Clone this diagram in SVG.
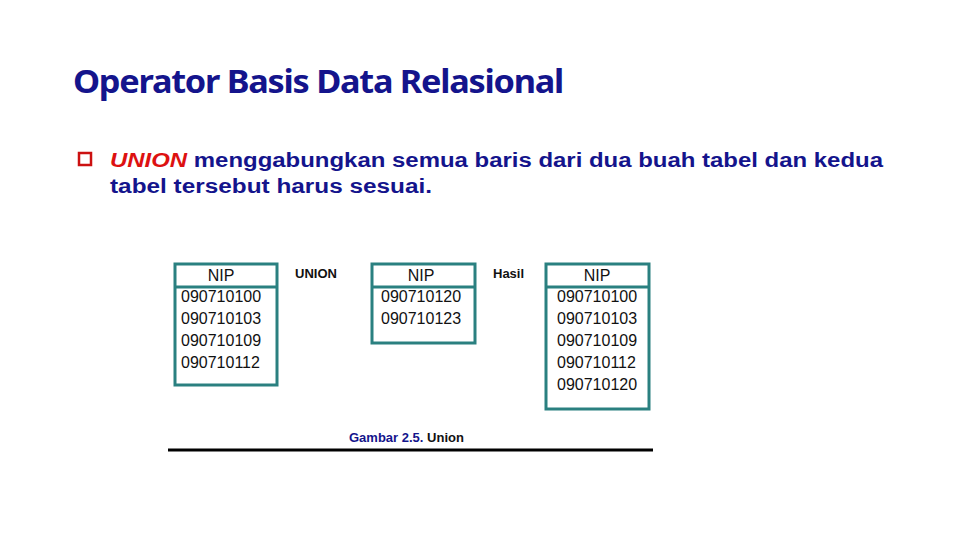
<svg xmlns="http://www.w3.org/2000/svg" width="960" height="540" viewBox="0 0 960 540">
<style>
.tb{fill:#fff;stroke:#2a8080;stroke-width:3}
.hd{stroke:#2a8080;stroke-width:3}
.c{font-family:"Liberation Sans",Arial,sans-serif;font-size:16px;fill:#111}
.lb{font-family:"Liberation Sans",Arial,sans-serif;font-size:13px;font-weight:bold;fill:#111}
.nv{fill:#14148c}
</style>
<rect width="960" height="540" fill="#fff"/>
<text x="73" y="93" font-family="'Noto Sans',sans-serif" font-size="33" font-weight="bold" fill="#14148c" letter-spacing="-1.2" textLength="490" lengthAdjust="spacingAndGlyphs">Operator Basis Data Relasional</text>
<rect x="79" y="153" width="12" height="12" fill="#fff" stroke="#cc1111" stroke-width="2.5"/>
<text x="110" y="167" font-family="'Liberation Sans',Arial,sans-serif" font-size="20" font-weight="bold" fill="#14148c" textLength="773" lengthAdjust="spacingAndGlyphs"><tspan fill="#dd1111" font-style="italic">UNION</tspan> menggabungkan semua baris dari dua buah tabel dan kedua</text>
<text x="110" y="193" font-family="'Liberation Sans',Arial,sans-serif" font-size="20" font-weight="bold" fill="#14148c" textLength="322" lengthAdjust="spacingAndGlyphs">tabel tersebut harus  sesuai.</text>
<g id="t1">
<rect class="tb" x="175" y="264" width="102" height="121"/>
<line class="hd" x1="175" y1="287" x2="277" y2="287"/>
<text class="c" x="221" y="281" text-anchor="middle">NIP</text>
<text class="c" x="181" y="302">090710100</text>
<text class="c" x="181" y="324">090710103</text>
<text class="c" x="181" y="346">090710109</text>
<text class="c" x="181" y="368">090710112</text>
</g>
<g id="t2">
<rect class="tb" x="372" y="264" width="103" height="79"/>
<line class="hd" x1="372" y1="287" x2="475" y2="287"/>
<text class="c" x="421" y="281" text-anchor="middle">NIP</text>
<text class="c" x="381" y="302">090710120</text>
<text class="c" x="381" y="324">090710123</text>
</g>
<g id="t3">
<rect class="tb" x="546" y="264" width="103" height="145"/>
<line class="hd" x1="546" y1="287" x2="649" y2="287"/>
<text class="c" x="597" y="281" text-anchor="middle">NIP</text>
<text class="c" x="557" y="302">090710100</text>
<text class="c" x="557" y="324">090710103</text>
<text class="c" x="557" y="346">090710109</text>
<text class="c" x="557" y="368">090710112</text>
<text class="c" x="557" y="390">090710120</text>
</g>
<text class="lb" x="295" y="278">UNION</text>
<text class="lb" x="493" y="278">Hasil</text>
<text class="lb" x="349" y="442" font-weight="normal"><tspan class="nv" font-weight="bold">Gambar 2.5.</tspan> Union</text>
<g id="connectors"><line x1="168" y1="450" x2="653" y2="450" stroke="#000" stroke-width="3"/></g>
</svg>
